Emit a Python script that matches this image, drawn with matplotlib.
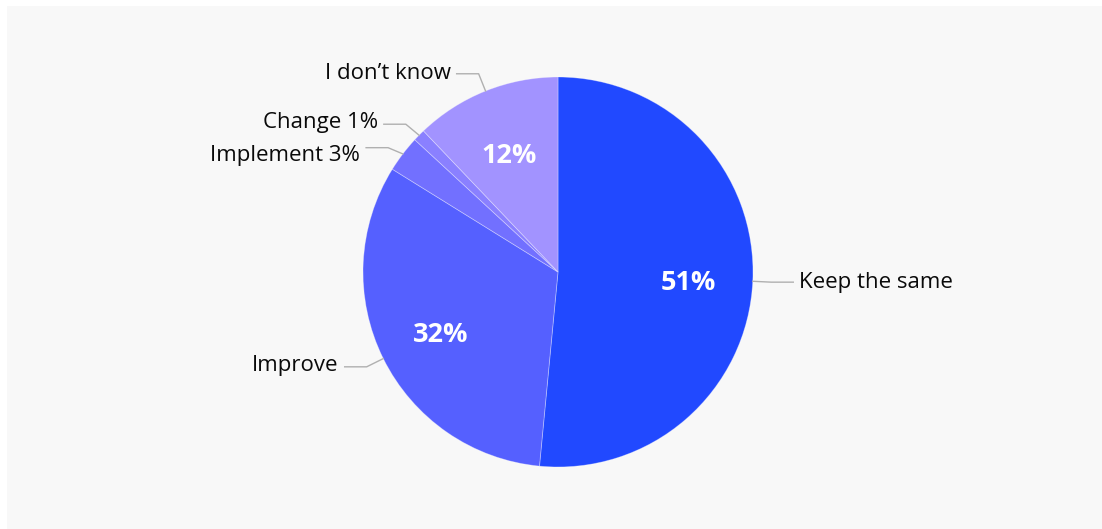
import numpy as np
import matplotlib.pyplot as plt
from matplotlib.patches import Rectangle

# данные
labels = ["Keep the same", "Improve", "Implement", "Change", "I don\u2019t know"]
values = [51, 32, 3, 1, 12]
colors = ["#2149ff", "#5560ff", "#7270ff", "#8a80ff", "#a293ff"]
outer_text = ["Keep the same", "Improve", "Implement 3%", "Change 1%", "I don\u2019t know"]
# сдвиги подписей по вертикали (пиксели), чтобы не налезали
elbow_shift = [0, 0, -5, -2, 0]
text_shift = [0, 1, -8, 2, 0]

plt.rcParams['font.family'] = ['Open Sans', 'DejaVu Sans']

W, H = 1102, 529
fig = plt.figure(figsize=(W / 100, H / 100), dpi=100)
fig.patch.set_facecolor("white")
ax = fig.add_axes([0, 0, 1, 1])

# серый фон
ax.add_patch(Rectangle((7, 0), W - 7, H - 6, facecolor="#f8f8f8", edgecolor="none", zorder=0))

cx, cy, r = 558, H - 272, 195
wedges, _ = ax.pie(values, colors=colors, startangle=90, counterclock=False,
                   center=(cx, cy), radius=r, frame=True,
                   wedgeprops=dict(edgecolor=(1, 1, 1, 0.35), linewidth=0.6))
ax.set_xlim(0, W)
ax.set_ylim(0, H)
ax.set_aspect("equal")
ax.axis("off")

total = sum(values)
for i, (w, val, txt) in enumerate(zip(wedges, values, outer_text)):
    mid = np.deg2rad((w.theta1 + w.theta2) / 2)
    c, s = np.cos(mid), np.sin(mid)
    # проценты внутри
    if val / total >= 0.1:
        ax.text(cx + 0.67 * r * c, cy + 0.67 * r * s - 5, f"{val}%", color="white",
                fontsize=19.5, fontweight="bold", ha="center", va="center", zorder=5)
    # выноски
    px, py = cx + r * c, cy + r * s
    ex, ey = cx + 1.095 * r * c, cy + 1.095 * r * s + elbow_shift[i]
    side = 1 if c > 0 else -1
    hx = ex + side * 22
    ax.plot([px, ex, hx], [py, ey, ey], color="#b0b0b0", lw=1, zorder=4)
    ax.text(hx + side * 6, ey + text_shift[i], txt, fontsize=16, color="#0a0a0a",
            ha="left" if side > 0 else "right", va="center", zorder=5)

fig.savefig("out.png", dpi=100)
